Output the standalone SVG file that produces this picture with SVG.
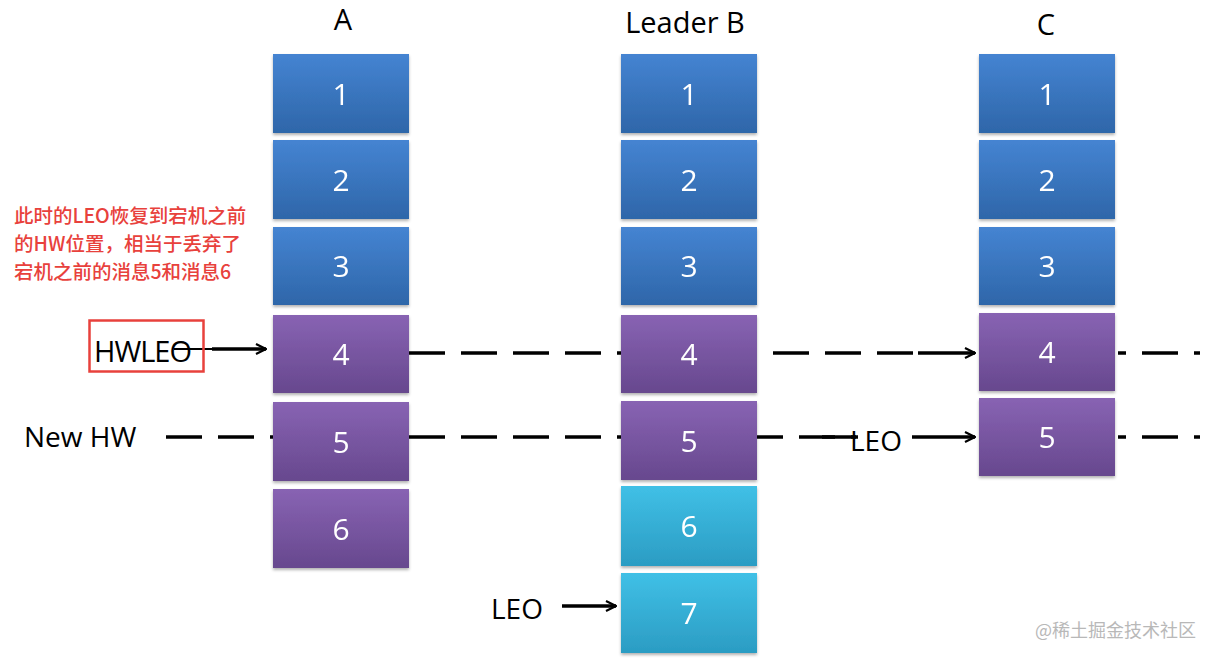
<svg xmlns="http://www.w3.org/2000/svg" width="1214" height="660" viewBox="0 0 1214 660">
<defs>
<linearGradient id="gBlue" x1="0" y1="0" x2="0" y2="1"><stop offset="0" stop-color="#4584d2"/><stop offset="1" stop-color="#2e66a9"/></linearGradient>
<linearGradient id="gPurple" x1="0" y1="0" x2="0" y2="1"><stop offset="0" stop-color="#8863b3"/><stop offset="1" stop-color="#67488e"/></linearGradient>
<linearGradient id="gCyan" x1="0" y1="0" x2="0" y2="1"><stop offset="0" stop-color="#40c0e6"/><stop offset="1" stop-color="#2b9cc3"/></linearGradient>
<filter id="sh" x="-10%" y="-10%" width="120%" height="130%"><feDropShadow dx="0" dy="2" stdDeviation="1.5" flood-color="#000" flood-opacity="0.3"/></filter>
<marker id="ah" viewBox="0 0 12 12" refX="11" refY="6" markerWidth="12" markerHeight="12" markerUnits="userSpaceOnUse" orient="auto"><path d="M1,1 L11,6 L1,11" fill="none" stroke="#000" stroke-width="2.2"/></marker>
</defs>
<style>
.box{filter:url(#sh)}
.b{fill:url(#gBlue)}
.p{fill:url(#gPurple)}
.c{fill:url(#gCyan)}
.num{font-family:"Open Sans","DejaVu Sans",sans-serif;font-size:30px;fill:#fff;text-anchor:middle}
.hdr{font-family:"Open Sans","DejaVu Sans",sans-serif;font-size:29px;fill:#000;text-anchor:middle}
.lbl{font-family:"Open Sans","DejaVu Sans",sans-serif;font-size:28px;fill:#000}
.dash{stroke:#000;stroke-width:3.5;stroke-dasharray:36 16;fill:none}
.arr{stroke:#000;stroke-width:3.5;fill:none;marker-end:url(#ah)}
.note{font-family:"Noto Sans CJK SC","Noto Sans",sans-serif;font-size:19.5px;font-weight:500;fill:#e8413c}
.wm{font-family:"Noto Sans CJK SC",sans-serif;font-size:18px;fill:#b8b8b8}
</style>
<rect width="1214" height="660" fill="#fff"/>
<text class="hdr" x="343" y="30">A</text>
<text class="hdr" x="685" y="33">Leader B</text>
<text class="hdr" x="1046" y="35">C</text>
<g id="connectors">
<line class="dash" x1="409" y1="353" x2="918" y2="353"/>
<line class="dash" x1="1118" y1="353" x2="1200" y2="353" stroke-dashoffset="28"/>
<line class="dash" x1="166" y1="437" x2="273" y2="437"/>
<line class="dash" x1="409" y1="437" x2="621" y2="437"/>
<line class="dash" x1="757" y1="437" x2="856" y2="437" stroke-dashoffset="10"/>
<line class="dash" x1="1118" y1="437" x2="1200" y2="437" stroke-dashoffset="28"/>
<line x1="174" y1="349" x2="212" y2="349" stroke="#000" stroke-width="2"/>
<line class="arr" x1="212" y1="349" x2="266" y2="349"/>
<line class="arr" x1="918" y1="353" x2="975" y2="353"/>
<line class="arr" x1="912" y1="437" x2="975" y2="437"/>
<line class="arr" x1="562" y1="606" x2="616" y2="606"/>
</g>
<g id="A1" class="box"><rect class="b" x="273" y="54" width="136" height="79"/><text class="num" x="341" y="105">1</text></g>
<g id="A2" class="box"><rect class="b" x="273" y="140" width="136" height="79"/><text class="num" x="341" y="191">2</text></g>
<g id="A3" class="box"><rect class="b" x="273" y="227" width="136" height="78"/><text class="num" x="341" y="277">3</text></g>
<g id="A4" class="box"><rect class="p" x="273" y="315" width="136" height="78"/><text class="num" x="341" y="365">4</text></g>
<g id="A5" class="box"><rect class="p" x="273" y="402" width="136" height="79"/><text class="num" x="341" y="453">5</text></g>
<g id="A6" class="box"><rect class="p" x="273" y="489" width="136" height="79"/><text class="num" x="341" y="540">6</text></g>
<g id="B1" class="box"><rect class="b" x="621" y="54" width="136" height="79"/><text class="num" x="689" y="105">1</text></g>
<g id="B2" class="box"><rect class="b" x="621" y="140" width="136" height="79"/><text class="num" x="689" y="191">2</text></g>
<g id="B3" class="box"><rect class="b" x="621" y="227" width="136" height="78"/><text class="num" x="689" y="277">3</text></g>
<g id="B4" class="box"><rect class="p" x="621" y="315" width="136" height="78"/><text class="num" x="689" y="365">4</text></g>
<g id="B5" class="box"><rect class="p" x="621" y="401" width="136" height="79"/><text class="num" x="689" y="452">5</text></g>
<g id="B6" class="box"><rect class="c" x="621" y="486" width="136" height="80"/><text class="num" x="689" y="537">6</text></g>
<g id="B7" class="box"><rect class="c" x="621" y="573" width="136" height="80"/><text class="num" x="689" y="624">7</text></g>
<g id="C1" class="box"><rect class="b" x="979" y="54" width="136" height="79"/><text class="num" x="1047" y="105">1</text></g>
<g id="C2" class="box"><rect class="b" x="979" y="140" width="136" height="79"/><text class="num" x="1047" y="191">2</text></g>
<g id="C3" class="box"><rect class="b" x="979" y="227" width="136" height="78"/><text class="num" x="1047" y="277">3</text></g>
<g id="C4" class="box"><rect class="p" x="979" y="313" width="136" height="78"/><text class="num" x="1047" y="363">4</text></g>
<g id="C5" class="box"><rect class="p" x="979" y="398" width="136" height="78"/><text class="num" x="1047" y="448">5</text></g>
<g id="labels">
<rect x="89.5" y="320.5" width="114" height="51" fill="none" stroke="#e8413c" stroke-width="2.5"/>
<text class="lbl" x="94" y="362" style="font-size:29px;letter-spacing:-1px">HWLEO</text>
<text class="lbl" x="24" y="447">New HW</text>
<line x1="822" y1="437" x2="858" y2="437" stroke="#000" stroke-width="3.5"/>
<text class="lbl" x="850" y="451">LEO</text>
<text class="lbl" x="491" y="619">LEO</text>
</g>
<g id="note">
<text class="note" x="14" y="223">此时的LEO恢复到宕机之前</text>
<text class="note" x="14" y="251">的HW位置，相当于丢弃了</text>
<text class="note" x="14" y="279">宕机之前的消息5和消息6</text>
</g>
<text class="wm" x="1035" y="637">@稀土掘金技术社区</text>
</svg>
